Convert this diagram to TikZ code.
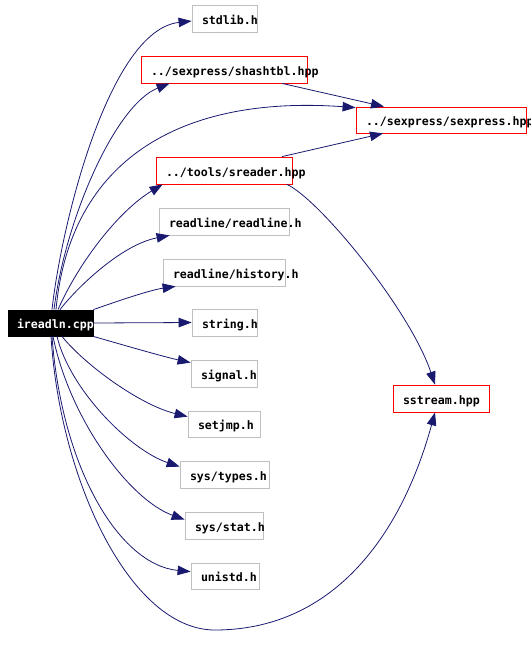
\documentclass[tikz,border=0pt]{standalone}
\usepackage{fontspec}
\setmonofont{DejaVu Sans Mono}
\usetikzlibrary{arrows.meta}
\definecolor{edgeblue}{RGB}{25,25,112}
\definecolor{boxgray}{RGB}{191,191,191}
\definecolor{boxred}{RGB}{255,0,0}
\tikzset{
  basebox/.style={rectangle, line width=0.8pt, inner xsep=10pt, inner ysep=0pt,
    text height=11pt, text depth=0pt, align=left,
    font=\ttfamily\bfseries\fontsize{11.6}{12}\selectfont},
  sysbox/.style={basebox, draw=boxgray},
  projbox/.style={basebox, draw=boxred},
  rootbox/.style={basebox, draw=black, fill=black, text=white, inner xsep=9pt},
  edge/.style={draw=edgeblue, line width=0.8pt, -{Triangle[length=13pt,width=9.5pt]}}
}
\begin{document}
\begin{tikzpicture}[x=1pt,y=-1pt]
\useasboundingbox (0,0) rectangle (531,649);
% nodes
\node[rootbox, minimum height=26pt, text width=67pt] (ireadln) at (50.5,323) {\mbox{ireadln.cpp}};
\node[sysbox, minimum height=27pt, text width=45pt] (stdlib) at (224.5,18.5) {\mbox{stdlib.h}};
\node[projbox, minimum height=27pt, text width=146pt] (shashtbl) at (224,69.5) {\mbox{../sexpress/shashtbl.hpp}};
\node[projbox, minimum height=26pt, text width=150pt] (sexpress) at (441,120) {\mbox{../sexpress/sexpress.hpp}};
\node[projbox, minimum height=27pt, text width=116pt] (sreader) at (224,170.5) {\mbox{../tools/sreader.hpp}};
\node[sysbox, minimum height=27pt, text width=110pt] (readline) at (224,221.5) {\mbox{readline/readline.h}};
\node[sysbox, minimum height=27pt, text width=102pt] (history) at (224,272.5) {\mbox{readline/history.h}};
\node[sysbox, minimum height=27pt, text width=45pt] (string) at (224.5,322.5) {\mbox{string.h}};
\node[sysbox, minimum height=27pt, text width=46pt] (signal) at (224,373.5) {\mbox{signal.h}};
\node[sysbox, minimum height=26pt, text width=52pt] (setjmp) at (224,424) {\mbox{setjmp.h}};
\node[sysbox, minimum height=27pt, text width=69pt] (systypes) at (224.5,474.5) {\mbox{sys/types.h}};
\node[sysbox, minimum height=27pt, text width=58pt] (sysstat) at (224,525.5) {\mbox{sys/stat.h}};
\node[sysbox, minimum height=26pt, text width=48pt] (unistd) at (225,576) {\mbox{unistd.h}};
\node[projbox, minimum height=27pt, text width=76pt] (sstream) at (441,398.5) {\mbox{sstream.hpp}};
% edges
\draw[edge] ([xshift=1.5pt]ireadln.north) .. controls (62,220) and (110,30) .. ([yshift=-2.5pt]stdlib.west);
\draw[edge] ([xshift=3.5pt]ireadln.north) .. controls (65,220) and (115,105) .. ([xshift=29pt]shashtbl.south west);
\draw[edge] ([xshift=5.5pt]ireadln.north) .. controls (70,160) and (180,95) .. ([yshift=-1pt]sexpress.north west);
\draw[edge] ([xshift=7.5pt]ireadln.north) .. controls (80,260) and (120,210) .. ([xshift=7pt]sreader.south west);
\draw[edge] ([xshift=9.5pt]ireadln.north) .. controls (75,290) and (120,245) .. ([xshift=11pt]readline.south west);
\draw[edge] (ireadln.north east) .. controls (115,302) and (150,290) .. ([xshift=13pt]history.south west);
\draw[edge] (ireadln.east) -- (string.west);
\draw[edge] (ireadln.south east) .. controls (130,347) and (165,357) .. ([yshift=-3pt]signal.north west);
\draw[edge] ([xshift=11.5pt]ireadln.south) .. controls (85,365) and (140,405) .. ([yshift=-6pt]setjmp.north west);
\draw[edge] ([xshift=6.5pt]ireadln.south) .. controls (70,390) and (130,450) .. ([yshift=-6pt]systypes.north west);
\draw[edge] ([xshift=2.5pt]ireadln.south) .. controls (70,420) and (130,500) .. ([yshift=-8pt]sysstat.north west);
\draw[edge] ([xshift=1.5pt]ireadln.south) .. controls (62,470) and (120,565) .. ([yshift=-9pt]unistd.north west);
\coordinate (bottom) at (215,630);
\draw[edge] ([xshift=0.5pt]ireadln.south) .. controls (60,480) and (130,630) .. (bottom) .. controls (330,630) and (400,540) .. ([xshift=-6pt]sstream.south);
\draw[edge] ([xshift=58pt]shashtbl.south) -- ([xshift=-57pt]sexpress.north);
\draw[edge] ([xshift=58pt]sreader.north) -- ([xshift=-58pt]sexpress.south);
\draw[edge] ([xshift=63pt]sreader.south) .. controls (320,200) and (410,310) .. ([xshift=-6pt]sstream.north);
\end{tikzpicture}
\end{document}
